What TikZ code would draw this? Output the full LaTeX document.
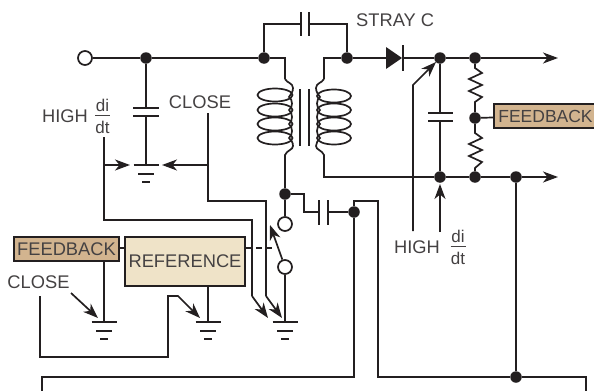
\documentclass[tikz,border=0pt]{standalone}
\usepackage{fontspec}
\setmainfont{Liberation Sans}
\usetikzlibrary{arrows.meta}
\definecolor{ink}{HTML}{231F20}
\definecolor{tan}{HTML}{D2B48F}
\definecolor{cream}{HTML}{EFE3C8}
\tikzset{
  wire/.style={line width=1.7pt, color=ink},
  arr/.style={wire, -{Stealth[length=15pt,width=11pt,inset=4.5pt]}},
  dot/.style={circle, fill=ink, inner sep=0pt, minimum size=11.5pt},
  port/.style={circle, draw=ink, line width=1.7pt, fill=white, inner sep=0pt, minimum size=14pt},
  lbl/.style={inner sep=0pt, text=ink!85, font=\fontsize{18.3}{19}\selectfont},
  bx/.style={draw=ink, line width=1.8pt, inner sep=0pt, text=ink!85, font=\fontsize{18.3}{19}\selectfont},
  frac/.style={inner sep=0pt, text=ink!85, font=\fontsize{17}{17}\selectfont},
  gnd/.pic={
    \draw[wire] (-12.5,0) -- (12.5,0);
    \draw[wire] (-8,9) -- (8,9);
    \draw[wire] (-4,17) -- (4,17);
  }
}
\begin{document}
\begin{tikzpicture}[x=1pt, y=-1pt]
\useasboundingbox (0,0) rectangle (594,391);
% junctions
\node[dot] (ja) at (146,58) {};
\node[dot] (jb) at (264,58) {};
\node[dot] (jc) at (347,58) {};
\node[dot] (jd) at (440,58) {};
\node[dot] (je) at (475,58) {};
\node[dot] (jf) at (475,118) {};
\node[dot] (jg) at (440,177) {};
\node[dot] (jh) at (475,177) {};
\node[dot] (ji) at (516,177) {};
\node[dot] (jj) at (285,194) {};
\node[dot] (jk) at (354,212) {};
\node[dot] (jl) at (516,377) {};
\node[port] (vin) at (85,58) {};
\node[port] (swa) at (285,224) {};
\node[port] (swb) at (285,267) {};
% boxes
\node[bx, fill=tan, minimum width=105pt, minimum height=24pt] (fbl) at (66.5,249) {FEEDBACK};
\node[bx, fill=cream, minimum width=120pt, minimum height=49pt] (ref) at (185,261.5) {REFERENCE};
\node[bx, fill=tan, minimum width=103pt, minimum height=24pt, font=\fontsize{17.5}{19}\selectfont] (fbr) at (545.5,116) {FEEDBACK};
% labels
\node[lbl, anchor=west] (stray) at (356,20) {STRAY C};
\node[lbl] (closea) at (200,102) {CLOSE};
\node[lbl] (closeb) at (38.5,282) {CLOSE};
\node[lbl, anchor=east] (higha) at (88,116) {HIGH};
\node[frac] (dia) at (102.5,105) {di};
\node[frac] (dta) at (102.5,127) {dt};
\draw[ink!85, line width=.8pt] (95,115.5) -- (110,115.5);
\node[lbl, anchor=east] (highb) at (440,247) {HIGH};
\node[frac] (dib) at (458,236) {di};
\node[frac] (dtb) at (458,258) {dt};
\draw[ink!85, line width=.8pt] (450.5,246.5) -- (465.5,246.5);
% grounds
\foreach \x/\y/\n in {146/165/ga, 104/322/gb, 208/322/gc, 285/322/gd}{
  \coordinate (\n) at (\x,\y);
  \pic at (\n) {gnd};
}
% top rail
\draw[wire] (vin) -- (ja) -- (jb) -- (285,58) -- (285,79);
\draw[wire] (jb) |- (301,24);
\draw[wire] (309,24) -| (jc);
\draw[wire] (301,12) -- (301,36);
\draw[wire] (309,12) -- (309,36);
\draw[wire] (324,79) -- (324,58) -- (jc) -- (386,58);
\draw[wire] (403,58) -- (jd) -- (je);
\draw[arr] (je) -- (558,58);
\fill[ink] (386,47) -- (402,58) -- (386,69) -- cycle;
\draw[line width=2.4pt, ink] (403,45) -- (403,71);
% input capacitor
\draw[wire] (ja) -- (146,108);
\draw[wire] (146,116) -- (ga);
\draw[wire] (133,108) -- (159,108);
\draw[wire] (133,116) -- (159,116);
% primary
\foreach \y in {95,110,124,138}{
  \draw[wire] (275,\y) ellipse (17.5 and 6.5);
}
\draw[wire] (285,79) .. controls (287,83) and (293,83) .. (293,88)
  .. controls (293,92) and (291,94) .. (289,97)
  .. controls (293,100) and (293,107) .. (289,110)
  .. controls (293,113) and (293,121) .. (289,124)
  .. controls (293,127) and (293,135) .. (289,138)
  .. controls (291,140) and (293,142) .. (293,146)
  .. controls (293,150) and (287,150) .. (285,155) -- (jj);
% core
\draw[wire] (300,89) -- (300,146);
\draw[wire] (309,89) -- (309,146);
% secondary
\foreach \y in {96,110,124,138}{
  \draw[wire] (334,\y) ellipse (17 and 6.5);
}
\draw[wire] (324,79) .. controls (322,83) and (316,83) .. (316,88)
  .. controls (316,92) and (318,94) .. (320,97)
  .. controls (316,100) and (316,107) .. (320,110)
  .. controls (316,113) and (316,121) .. (320,124)
  .. controls (316,127) and (316,135) .. (320,138)
  .. controls (318,140) and (316,143) .. (316,146)
  .. controls (316,150) and (322,150) .. (324,155) -- (324,177) -- (jg);
\draw[wire] (jg) -- (jh) -- (ji);
\draw[arr] (ji) -- (558,177);
% output capacitor and divider
\draw[wire] (jd) -- (440,113);
\draw[wire] (440,121) -- (jg);
\draw[wire] (428,113) -- (453,113);
\draw[wire] (428,121) -- (453,121);
\draw[wire] (je) -- (475,68) -- (482,73) -- (469,79) -- (482,85) -- (469,91) -- (482,97) -- (475,102) -- (jf);
\draw[wire] (jf) -- (475,133) -- (482,138) -- (469,144) -- (482,150) -- (469,156) -- (482,162) -- (475,168) -- (jh);
\draw[wire] (jf) -- (fbr);
% di/dt sense at output
\draw[arr] (413,231) -- (413,85) -- (436,62);
\draw[arr] (440,232) -- (440,184);
% switch
\draw[wire] (jj) -- (swa);
\draw[wire] (swb) -- (gd);
\draw[arr] (swb) -- (270,225);
\draw[wire, dash pattern=on 6pt off 4pt] (ref.east |- 0,248) -- (272,248);
% drive network
\draw[wire] (jj) -- (304,194) -- (304,212) -- (319,212);
\draw[wire] (319,200) -- (319,225);
\draw[wire] (328,200) -- (328,225);
\draw[wire] (328,212) -- (jk);
\draw[wire] (jk) -- (354,201) -- (378,201) -- (378,377) -- (jl) -- (586,377) -- (586,391);
\draw[wire] (jk) -- (354,377) -- (42,377) -- (42,391);
\draw[wire] (ji) -- (jl);
% feedback and reference
\draw[wire] (fbl.east |- 0,248) -- (ref.west |- 0,248);
\draw[wire] (104,261) -- (gb);
\draw[wire] (208,286) -- (gc);
% close and di/dt paths
\draw[arr] (71,293) -- (98,318);
\draw[arr] (40,296) -- (40,357) -- (168,357) -- (168,296) -- (178,296) -- (200,318);
\draw[wire] (104,137) -- (104,220) -- (252,220) -- (252,296);
\draw[arr] (252,296) -- (268,318);
\draw[arr] (104,165) -- (130,165);
\draw[wire] (208,113) -- (208,201) -- (266,201) -- (266,296);
\draw[arr] (266,296) -- (282,318);
\draw[arr] (208,165) -- (162,165);
\end{tikzpicture}
\end{document}
